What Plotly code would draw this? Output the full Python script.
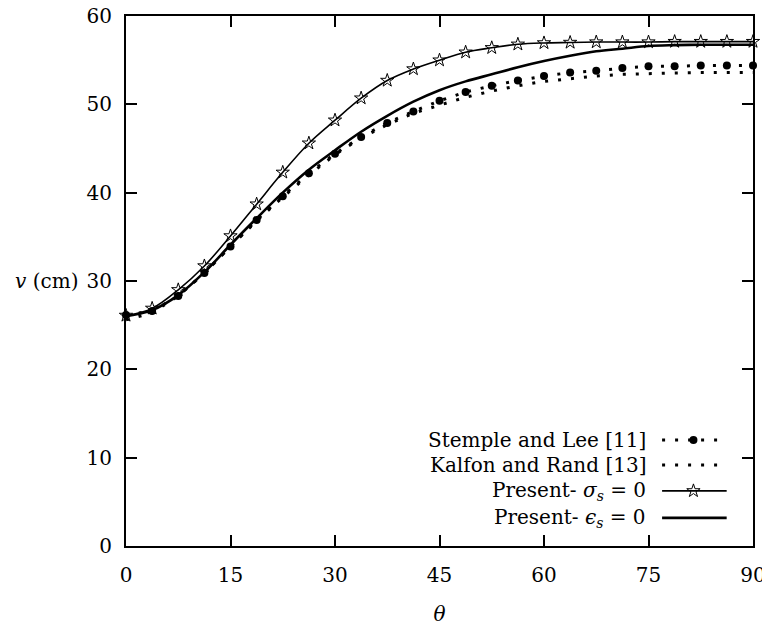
import plotly.graph_objects as go

# ---------------- data ----------------
theta = [0, 3.75, 7.5, 11.25, 15, 18.75, 22.5, 26.25, 30, 33.75, 37.5, 41.25, 45,
         48.75, 52.5, 56.25, 60, 63.75, 67.5, 71.25, 75, 78.75, 82.5, 86.25, 90]

stemple_lee = [26.15, 26.6, 28.3, 30.9, 33.9, 36.9, 39.6, 42.2, 44.4, 46.3, 47.9, 49.2, 50.4,
               51.4, 52.1, 52.7, 53.2, 53.6, 53.8, 54.1, 54.3, 54.3, 54.4, 54.4, 54.4]

kalfon_rand = [25.6, 26.4, 28.3, 30.9, 33.9, 36.8, 39.5, 42.0, 44.3, 46.2, 47.7, 49.0, 49.9,
               50.8, 51.5, 52.1, 52.6, 52.9, 53.2, 53.4, 53.5, 53.55, 53.6, 53.6, 53.6]

present_sigma = [26.1, 26.9, 29.0, 31.7, 35.1, 38.7, 42.3, 45.6, 48.2, 50.7, 52.7, 54.0, 55.0,
                 55.9, 56.4, 56.8, 56.95, 57.0, 57.05, 57.05, 57.05, 57.1, 57.1, 57.1, 57.1]

present_eps = [26.0, 26.7, 28.4, 31.0, 34.1, 37.1, 40.0, 42.6, 44.8, 46.9, 48.7, 50.3, 51.6,
               52.6, 53.4, 54.2, 54.9, 55.5, 56.0, 56.3, 56.6, 56.7, 56.75, 56.75, 56.75]

series_labels = ["Stemple and Lee [11]",
                 "Kalfon and Rand [13]",
                 "Present- <i>σ<sub>s</sub></i> = 0",
                 "Present- <i>ϵ<sub>s</sub></i> = 0"]

x_ticks = [0, 15, 30, 45, 60, 75, 90]
y_ticks = [0, 10, 20, 30, 40, 50, 60]

# ---------------- style ----------------
FONT = "DejaVu Serif"
FS = 20
DOT = "3px,10px"

# legend layout (in plot-area fractions)
leg_rows = [0.2, 0.153, 0.104, 0.053]
leg_text_x = 0.832
leg_line_x = [0.855, 0.958]
leg_mark_x = 0.905

fig = go.Figure()

fig.add_trace(go.Scatter(x=theta, y=kalfon_rand, mode="lines",
                         line=dict(color="black", width=3, dash=DOT),
                         cliponaxis=False, showlegend=False))
fig.add_trace(go.Scatter(x=theta, y=stemple_lee, mode="lines+markers",
                         line=dict(color="black", width=3, dash=DOT),
                         marker=dict(symbol="circle", size=8, color="black"),
                         cliponaxis=False, showlegend=False))
fig.add_trace(go.Scatter(x=theta, y=present_eps, mode="lines",
                         line=dict(color="black", width=2.6, shape="spline"),
                         cliponaxis=False, showlegend=False))
fig.add_trace(go.Scatter(x=theta, y=present_sigma, mode="lines+markers",
                         line=dict(color="black", width=1.6, shape="spline"),
                         marker=dict(symbol="star-open", size=10, color="black",
                                     line=dict(width=1, color="black")),
                         cliponaxis=False, showlegend=False))

# ---------------- manual legend (symbols on the right) ----------------
leg_styles = [
    dict(line=dict(color="black", width=3, dash=DOT), marker=dict(symbol="circle", size=8, color="black")),
    dict(line=dict(color="black", width=3, dash=DOT), marker=None),
    dict(line=dict(color="black", width=1.6), marker=dict(symbol="star-open", size=10, color="black",
                                                          line=dict(width=1, color="black"))),
    dict(line=dict(color="black", width=2.6), marker=None),
]
for row, lab, st in zip(leg_rows, series_labels, leg_styles):
    fig.add_trace(go.Scatter(x=leg_line_x, y=[row, row], mode="lines",
                             line=st["line"], xaxis="x2", yaxis="y2",
                             showlegend=False, hoverinfo="skip"))
    if st["marker"] is not None:
        fig.add_trace(go.Scatter(x=[leg_mark_x], y=[row], mode="markers",
                                 marker=st["marker"], xaxis="x2", yaxis="y2",
                                 showlegend=False, hoverinfo="skip"))
    fig.add_annotation(x=leg_text_x, y=row, xref="x2", yref="y2", text=lab,
                       showarrow=False, xanchor="right", yanchor="middle",
                       font=dict(family=FONT, size=FS, color="black"))

axis_common = dict(showline=True, linecolor="black", linewidth=2, mirror="allticks",
                   ticks="inside", ticklen=11, tickwidth=2, tickcolor="black",
                   showgrid=False, zeroline=False, automargin=False,
                   ticklabeloverflow="allow",
                   tickfont=dict(family=FONT, size=FS, color="black"))

# page body adds an 8px offset, so the figure is sized/shifted to compensate
fig.update_layout(
    width=762, height=618,
    margin=dict(l=118, r=17, t=8, b=80, autoexpand=False),
    paper_bgcolor="white", plot_bgcolor="white",
    font=dict(family=FONT, size=FS, color="black"),
    xaxis=dict(range=[0, 90], tickvals=x_ticks, ticktext=[str(t) for t in x_ticks],
               ticklabelstandoff=10,
               title=dict(text="<i>θ</i>", font=dict(family=FONT, size=FS), standoff=24),
               **axis_common),
    yaxis=dict(range=[0, 60], tickvals=y_ticks, ticktext=[str(t) for t in y_ticks],
               ticklabelstandoff=8, **axis_common),
    xaxis2=dict(overlaying="x", range=[0, 1], visible=False, anchor="y2"),
    yaxis2=dict(overlaying="y", range=[0, 1], visible=False, anchor="x2"),
    showlegend=False,
)

fig.add_annotation(x=-0.073, y=30, xref="paper", yref="y", text="<i>v</i> (cm)",
                   showarrow=False, xanchor="right", yanchor="middle",
                   font=dict(family=FONT, size=FS, color="black"))

fig.write_html("out.html")
